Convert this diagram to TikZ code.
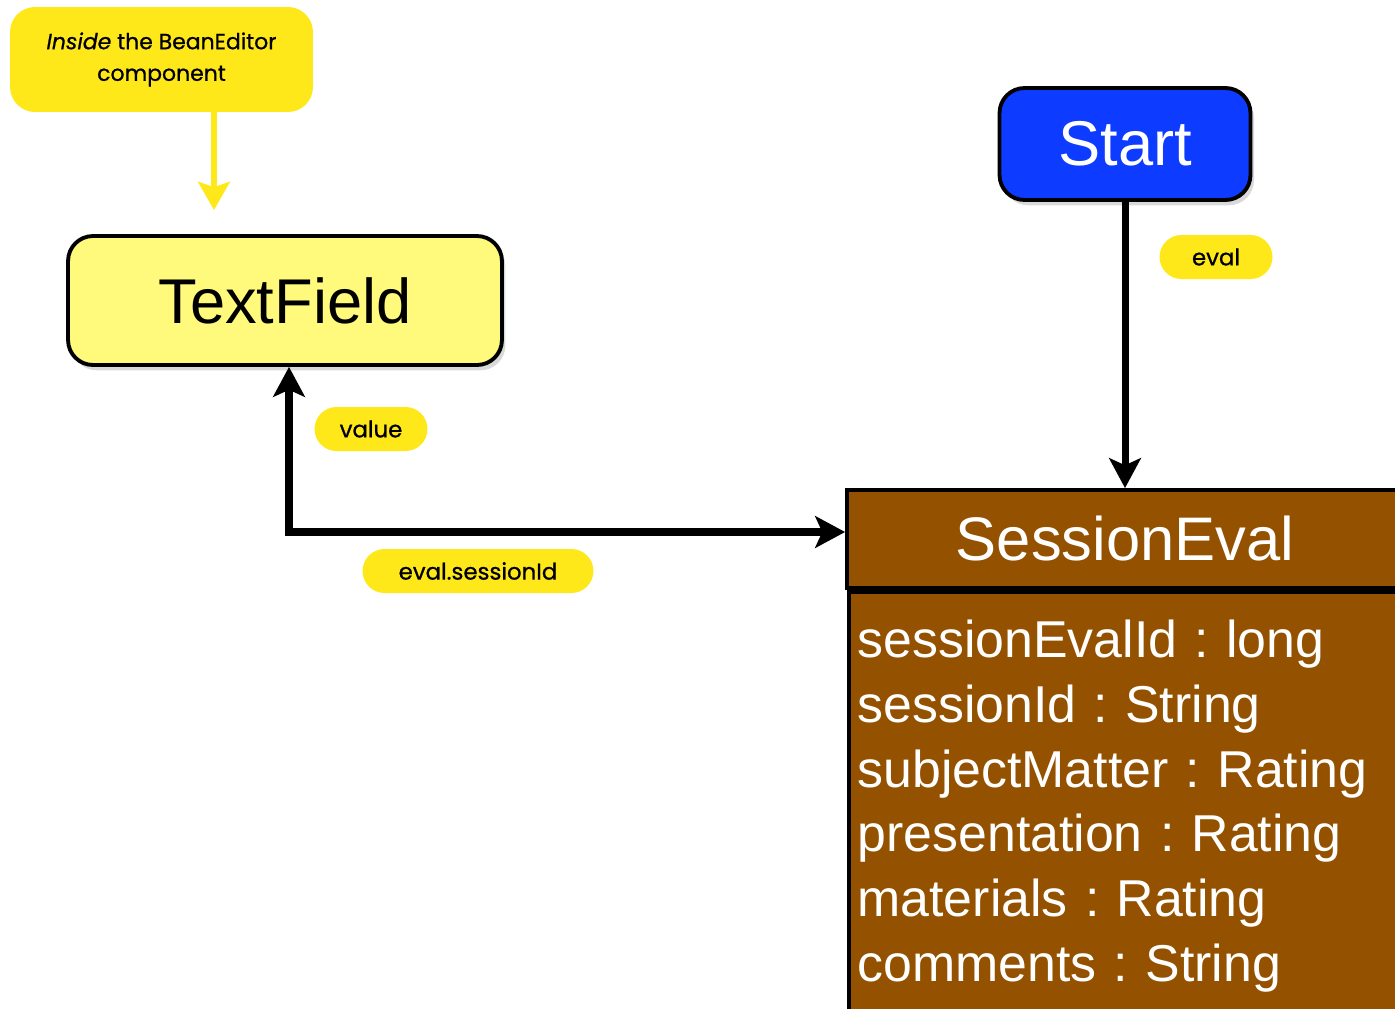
\documentclass[tikz,border=0pt]{standalone}
\usepackage{fontspec}
\setmainfont{Liberation Sans}
\newfontfamily\pillfont{Poppins}[FakeBold=0.8]
\usetikzlibrary{positioning, shadows, arrows.meta}

\definecolor{noteyellow}{HTML}{FFE81A}
\definecolor{fieldyellow}{HTML}{FFFA7C}
\definecolor{startblue}{HTML}{0D3BFF}
\definecolor{beanbrown}{HTML}{945200}

\begin{document}
\frenchspacing
\begin{tikzpicture}[x=0.02cm, y=-0.02cm,
    >={Stealth[length=17pt, width=18pt, inset=4pt]},
    box/.style={draw, line width=2.2pt, rounded corners=0.5cm,
      drop shadow={shadow xshift=2pt, shadow yshift=-3pt, opacity=0.3}},
    entity/.style={draw, line width=2.2pt, fill=beanbrown, text=white, rectangle},
    pill/.style={fill=noteyellow, rounded corners=0.44cm, minimum height=0.88cm,
      font=\pillfont\fontsize{13pt}{15pt}\selectfont},
    link/.style={line width=4pt},
    hint/.style={noteyellow, line width=3.2pt, -{Stealth[length=16pt, width=18pt, inset=3pt]}}]
  \useasboundingbox (0,0) rectangle (1395,1008);

  % note and the field it points at
  \node[fill=noteyellow, rounded corners=0.5cm, minimum width=6.06cm, minimum height=2.1cm,
    align=center, font=\pillfont\fontsize{12.5pt}{18pt}\selectfont] (note) at (161.5,59.5)
    {\textit{Inside} the BeanEditor\\component};
  \node[box, fill=fieldyellow, minimum width=8.68cm, minimum height=2.58cm,
    font=\fontsize{36pt}{40pt}\selectfont] (textfield) at (285,300.5) {TextField};
  \coordinate (notetip) at (214,210);
  \draw[hint] (note.south -| notetip) -- (notetip);

  % start node
  \node[box, fill=startblue, text=white, minimum width=5.02cm, minimum height=2.24cm,
    font=\fontsize{36pt}{40pt}\selectfont] (start) at (1125,144) {Start};

  % the bean
  \node[entity, minimum width=11.12cm, minimum height=1.96cm,
    font=\fontsize{35pt}{40pt}\selectfont] (sessioneval) at (1125,539) {SessionEval};
  \node[entity, below=0pt of sessioneval, text width=10.7cm, inner xsep=5pt, inner ysep=16pt,
    align=left, font=\fontsize{29.5pt}{36.85pt}\selectfont] (attrs)
    {sessionEvalId : long\\sessionId : String\\subjectMatter : Rating\\presentation : Rating\\materials : Rating\\comments : String};

  % bindings
  \coordinate (bend) at (289,532);
  \draw[link, ->] (start.south) -- (sessioneval.north);
  \draw[link, <->] (textfield.south -| bend) |- (sessioneval.west |- bend);

  \node[pill, minimum width=2.26cm] (evallabel) at (1216,257) {eval};
  \node[pill, minimum width=2.26cm] (valuelabel) at (371,429) {value};
  \node[pill, minimum width=4.62cm] (idlabel) at (478,571) {eval.sessionId};
\end{tikzpicture}
\end{document}
